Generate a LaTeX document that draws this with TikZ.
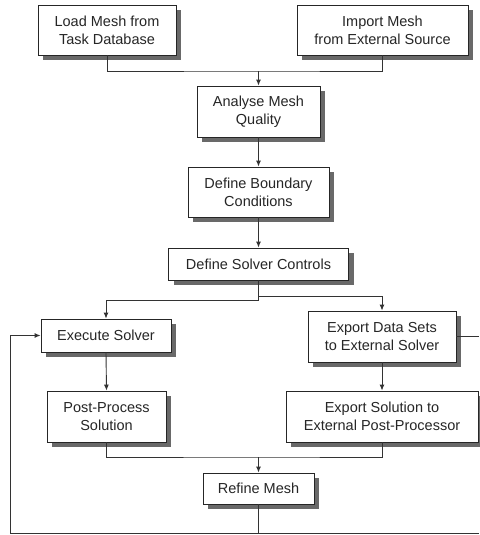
\documentclass[tikz,border=0pt]{standalone}
\usepackage{fontspec}
\setmainfont{Liberation Sans}
\usetikzlibrary{arrows.meta}
\definecolor{shadowgrey}{RGB}{105,105,105}
% a step box with its grey offset shadow band: name, x, y, width, height, text
\newcommand{\flowstep}[6]{%
  \fill[shadowgrey] (#2-#4/2+5,#3-#5/2+5) rectangle (#2+#4/2+5,#3+#5/2+5);
  \node[flowbox, minimum width=#4pt, minimum height=#5pt] (#1) at (#2,#3) {#6};}
\begin{document}
\begin{tikzpicture}[x=1pt,y=-1pt,
  flowbox/.style={draw=black!85, line width=0.9pt, fill=white, align=center,
    inner sep=2pt, text=black!85,
    font=\fontsize{14.5}{18}\selectfont},
  link/.style={draw=black!80, line width=0.9pt},
  flow/.style={link, -{Latex[length=6pt,width=5pt]}}]
\useasboundingbox (0,0) rectangle (479,535);

% process steps
\flowstep{load}{107}{30}{138}{50}{Load Mesh from\\Task Database}
\flowstep{import}{382.5}{30}{171}{50}{Import Mesh\\from External Source}
\flowstep{analyse}{258.5}{111.5}{123}{51}{Analyse Mesh\\Quality}
\flowstep{boundary}{258.5}{192}{141}{50}{Define Boundary\\Conditions}
\flowstep{controls}{258.5}{264}{180}{32}{Define Solver Controls}
\flowstep{execute}{106}{335.5}{130}{33}{Execute Solver}
\flowstep{exportdata}{382}{336.5}{148}{51}{Export Data Sets\\to External Solver}
\flowstep{post}{106.5}{416.5}{119}{51}{Post-Process\\Solution}
\flowstep{exportsol}{382}{416.5}{192}{51}{Export Solution to\\External Post-Processor}
\flowstep{refine}{258.5}{488.5}{111}{31}{Refine Mesh}

% junction points
\coordinate (topjoin) at (258.5,71);
\coordinate (splitl) at (258.5,300);
\coordinate (splitr) at (258.5,296);
\coordinate (midjoin) at (258.5,457);
\coordinate (bl) at (10,533);
\coordinate (br) at (479,533);
\coordinate (redge) at (479,336);

% merge of the two mesh sources
\draw[link] (load.south) |- (topjoin) -| (import.south);
\draw[flow] (topjoin) -- (analyse.north);
\draw[flow] (analyse.south) -- (boundary.north);
\draw[flow] (boundary.south) -- (controls.north);

% branch to internal and external solver
\draw[link] (controls.south) -- (splitl);
\draw[flow] (splitl) -| (execute.north);
\draw[flow] (splitr) -| (exportdata.north);
\draw[flow] (execute.south) -- (post.north);
\draw[flow] (exportdata.south) -- (exportsol.north);

% merge into mesh refinement
\draw[link] (post.south) |- (midjoin) -| (exportsol.south);
\draw[flow] (midjoin) -- (refine.north);

% feedback loop
\draw[link] (refine.south) -- (refine.south |- bl);
\draw[link] (br) -- (bl);
\draw[flow] (bl) |- (execute.west);
\draw[link] (exportdata.east) -- (exportdata.east -| redge);
\end{tikzpicture}
\end{document}
